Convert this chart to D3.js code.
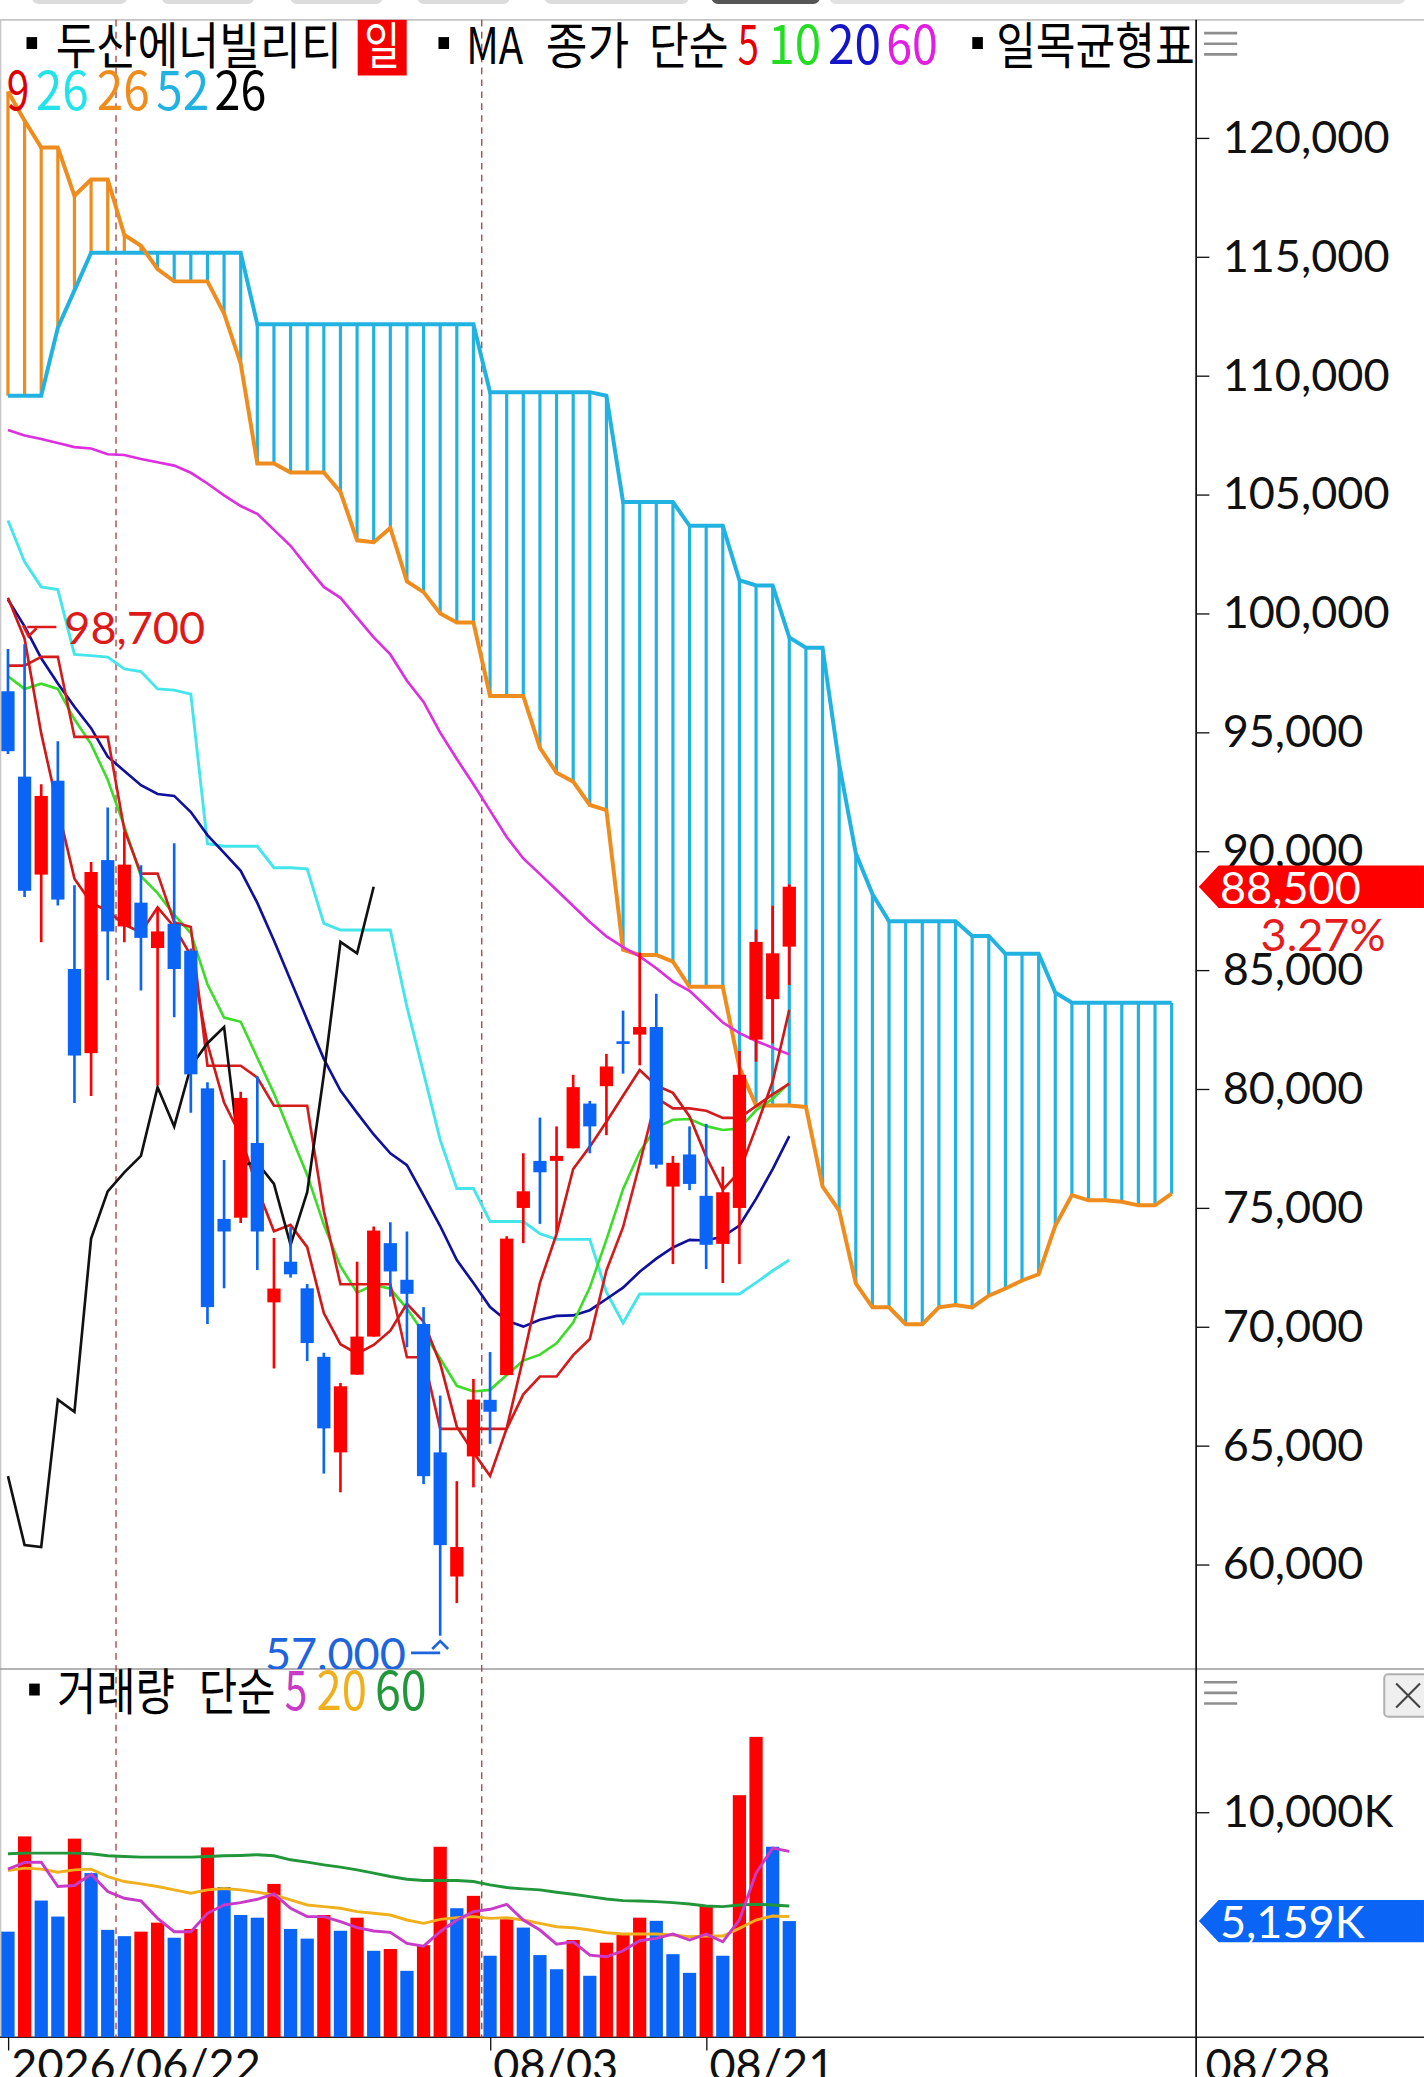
<!DOCTYPE html>
<html lang="ko">
<head>
<meta charset="utf-8">
<script src="https://cdn.jsdelivr.net/npm/d3@7"></script>
<style>
  html, body { margin: 0; padding: 0; background: #fff; }
  svg { display: block; }
  .num { font-family: Lato, "DejaVu Sans", sans-serif; }
  .kr { font-family: "Noto Sans CJK KR", "Noto Sans", sans-serif; }
</style>
</head>
<body>
<div id="chart"></div>
<script>
// trading days shown on the chart
const dates = [
  "2026/06/22", "2026/06/23", "2026/06/24", "2026/06/25", "2026/06/26", "2026/06/29", "2026/06/30",
  "2026/07/01", "2026/07/02", "2026/07/03", "2026/07/06", "2026/07/07", "2026/07/08", "2026/07/09",
  "2026/07/10", "2026/07/13", "2026/07/14", "2026/07/15", "2026/07/16", "2026/07/20", "2026/07/21",
  "2026/07/22", "2026/07/23", "2026/07/24", "2026/07/27", "2026/07/28", "2026/07/29", "2026/07/30",
  "2026/07/31", "2026/08/03", "2026/08/04", "2026/08/05", "2026/08/06", "2026/08/07", "2026/08/10",
  "2026/08/11", "2026/08/12", "2026/08/13", "2026/08/14", "2026/08/18", "2026/08/19", "2026/08/20",
  "2026/08/21", "2026/08/24", "2026/08/25", "2026/08/26", "2026/08/27", "2026/08/28"
];
const dateTicks = ["2026/06/22", "2026/08/03", "2026/08/21"];

const opens = [96720, 93130, 89010, 92960, 85040, 81500, 89620, 86830, 87830, 85920, 86940, 85810, 80020, 74530, 74580, 77720, 71020, 72730, 71610, 68730, 64710, 67980, 69580, 73510, 71970, 70110, 64710, 59490, 64540, 66920, 67960, 74990, 76970, 76970, 77500, 79380, 80110, 82000, 82280, 82600, 75890, 77240, 75500, 73480, 74990, 82070, 83770, 85980];
const highs = [98500, 98700, 92810, 94620, 88560, 89540, 91830, 90820, 89400, 87630, 90330, 85900, 80280, 77010, 79880, 80520, 73730, 74180, 71790, 68900, 67630, 72730, 74210, 74390, 74000, 70820, 67100, 63500, 67800, 68930, 73800, 77290, 78790, 78420, 80590, 79490, 81470, 83290, 85730, 84000, 77180, 78420, 78530, 76730, 81590, 86700, 87700, 88600];
const lows = [94080, 88070, 86160, 87710, 79400, 79700, 84570, 86160, 84140, 80150, 83010, 78990, 70110, 71610, 74360, 72380, 68240, 72060, 68550, 63820, 63030, 67980, 69580, 71260, 69130, 63380, 57000, 58370, 63240, 65070, 67960, 73510, 74320, 73920, 77500, 77290, 78050, 80640, 80990, 76650, 72630, 75740, 72420, 71830, 72630, 81140, 81910, 84370];
const closes = [94200, 88330, 92320, 87960, 81400, 89120, 86620, 89430, 86350, 86620, 85040, 80610, 70820, 74000, 79620, 74000, 71600, 72200, 69310, 65720, 67490, 69580, 74040, 72320, 71380, 63710, 60810, 60730, 66930, 66420, 73700, 75690, 76490, 77180, 80070, 78420, 80940, 81920, 82600, 76810, 76890, 76000, 73440, 75650, 80590, 86180, 85700, 88500];

// moving averages (MA 5 / 10 / 20 / 60)
const ma5 = [100650, 98930, 94950, 91810, 88840, 87830, 87480, 86910, 86580, 87630, 86810, 85610, 81890, 79420, 78020, 75810, 74010, 74280, 73340, 70570, 69260, 68860, 69230, 69830, 70960, 70210, 68450, 65790, 64710, 63720, 65720, 68690, 71840, 73900, 76630, 77570, 78620, 79710, 80790, 80140, 79830, 78840, 77150, 75760, 76510, 78370, 80310, 83320];
const ma10 = [97350, 96820, 97040, 96820, 95540, 94500, 93000, 91040, 88940, 88230, 87320, 86550, 84400, 83000, 82820, 81310, 79810, 78080, 76380, 74290, 72540, 71430, 71750, 71590, 70760, 69730, 68660, 67510, 67270, 67340, 67960, 68570, 68820, 69300, 70170, 71640, 73660, 75780, 77340, 78380, 78700, 78730, 78430, 78270, 78330, 79100, 79580, 80240];
const ma20 = [100580, 99450, 98110, 97050, 96070, 95170, 93970, 93370, 92770, 92400, 92320, 91640, 90670, 89920, 89170, 87820, 86240, 84570, 82900, 81260, 79930, 78990, 78080, 77290, 76790, 75520, 74230, 72800, 71830, 70820, 70250, 70000, 70290, 70450, 70470, 70690, 71160, 71640, 72310, 72860, 73330, 73650, 73620, 73790, 74250, 75370, 76620, 78010];
const ma60 = [107710, 107480, 107330, 107160, 106990, 106930, 106690, 106660, 106490, 106350, 106210, 105910, 105460, 104960, 104510, 104180, 103510, 102840, 101950, 101110, 100650, 99820, 98990, 98270, 97160, 96270, 94980, 93870, 92810, 91700, 90590, 89690, 89030, 88360, 87690, 87020, 86410, 85960, 85570, 85070, 84510, 84120, 83460, 82790, 82340, 82010, 81730, 81450];

// ichimoku: conversion (9), base (26), leading spans (26 / 52, run 23 days ahead), lagging (26)
const conversion = [97800, 97800, 98170, 98170, 94800, 94800, 94800, 90900, 89050, 89050, 87010, 86810, 80970, 80970, 80970, 80470, 79290, 79290, 79290, 74860, 71780, 71780, 71780, 71780, 68710, 68710, 65700, 65700, 65700, 65700, 65700, 67150, 67900, 67900, 68800, 69480, 72360, 74180, 76850, 79620, 79180, 79180, 79080, 78780, 78780, 79270, 79770, 80220];
const baseLine = [103900, 102170, 101110, 101000, 98270, 98220, 98160, 97660, 97550, 96820, 96770, 96600, 90310, 90200, 90200, 90200, 89300, 89300, 89250, 86960, 86680, 86680, 86680, 86680, 83450, 80670, 77850, 75810, 75810, 74420, 74420, 74420, 73910, 73670, 73670, 73670, 71450, 70150, 71370, 71370, 71370, 71370, 71370, 71370, 71370, 71850, 72350, 72800];
const span1 = [121950, 120720, 119590, 119590, 117560, 118240, 118240, 115910, 115460, 114480, 113960, 113960, 113960, 112610, 110500, 106300, 106300, 105920, 105920, 105920, 105100, 103070, 102990, 103590, 101340, 100890, 99990, 99610, 99610, 96520, 96520, 96520, 94340, 93290, 92920, 91940, 91720, 85850, 85630, 85630, 85350, 84290, 84290, 84290, 80890, 79300, 79300, 79300, 79240, 75890, 74880, 71820, 70810, 70810, 70100, 70100, 70810, 70910, 70810, 71300, 71600, 71940, 72200, 74240, 75530, 75310, 75310, 75250, 75100, 75100, 75590];
const span2 = [109150, 109150, 109150, 112010, 113580, 115160, 115160, 115160, 115160, 115160, 115160, 115160, 115160, 115160, 115160, 112160, 112160, 112160, 112160, 112160, 112160, 112160, 112160, 112160, 112160, 112160, 112160, 112160, 112160, 109300, 109300, 109300, 109300, 109300, 109300, 109300, 109150, 104680, 104680, 104680, 104680, 103680, 103680, 103680, 101390, 101170, 101170, 98980, 98550, 98550, 93660, 89910, 88190, 87050, 87050, 87050, 87050, 87050, 86430, 86430, 85680, 85680, 85680, 84050, 83620, 83620, 83620, 83620, 83620, 83620, 83620];
const lagSpan = [63710, 60810, 60730, 66930, 66420, 73700, 75690, 76490, 77180, 80070, 78420, 80940, 81920, 82600, 76810, 76890, 76000, 73440, 75650, 80590, 86180, 85700, 88500];

// volume in thousands of shares, with 5 / 20 / 60 day averages
const volumes = [4690, 8920, 6070, 5360, 8820, 7290, 4770, 4490, 4690, 5090, 4420, 4810, 8430, 6670, 5430, 5310, 6810, 4810, 4380, 5430, 4730, 5310, 3840, 3920, 2950, 4090, 8460, 5730, 6280, 3620, 5240, 4870, 3650, 3020, 4320, 2730, 4200, 4540, 5310, 5170, 3690, 2860, 5830, 3620, 10750, 13340, 8460, 5159];
const volMa5 = [7465, 7762, 7777, 6693, 6737, 7242, 6470, 6173, 6054, 5281, 4687, 4687, 5504, 5876, 5980, 6128, 6366, 5727, 5356, 5356, 5133, 4865, 4717, 4657, 4167, 4048, 4687, 5207, 5578, 5682, 5905, 5207, 4761, 4137, 4241, 3647, 3573, 3840, 4286, 4390, 4583, 4316, 4583, 4241, 5207, 7287, 8401, 8252];
const volMa20 = [7405, 7510, 7465, 7331, 7435, 7465, 7138, 6915, 6811, 6693, 6544, 6396, 6544, 6603, 6544, 6440, 6321, 6099, 5876, 5801, 5727, 5578, 5504, 5430, 5207, 5059, 5237, 5311, 5356, 5281, 5311, 5207, 5059, 4910, 4865, 4761, 4643, 4583, 4583, 4583, 4539, 4464, 4494, 4494, 4836, 5207, 5385, 5356];
const volMa60 = [8148, 8178, 8178, 8178, 8178, 8148, 8059, 8030, 8000, 8000, 8000, 8000, 8030, 8059, 8074, 8104, 8059, 7881, 7777, 7658, 7554, 7435, 7287, 7138, 7019, 6960, 6960, 6960, 6915, 6767, 6648, 6589, 6544, 6440, 6351, 6247, 6143, 6069, 6054, 6024, 5980, 5920, 5831, 5801, 5876, 5905, 5876, 5831];

const priceTicks = d3.range(60000, 120001, 5000);
const volumeTicks = [10000];

// ---------------------------------------------------------------
const W = 1075, H = 1568;
const axisX = 903, topY = 15, splitY = 1260, baseY = 1538;
const RED = "#ff0000", BLUE = "#0a64f5";

const svg = d3.select("#chart").append("svg")
  .attr("width", 1424).attr("height", 2077)
  .attr("viewBox", `0 0 ${W} ${H}`);

const x = d3.scaleLinear().domain([0, 70]).range([6, 884.5]);
const y = d3.scaleLinear().domain([60000, 120000]).range([1181, 104]);
const yv = d3.scaleLinear().domain([0, 10000]).range([baseY, 1368]);

const defs = svg.append("defs");
defs.append("clipPath").attr("id", "clipMain")
  .append("rect").attr("x", 0).attr("y", topY).attr("width", axisX).attr("height", splitY - topY);
defs.append("clipPath").attr("id", "clipVol")
  .append("rect").attr("x", 0).attr("y", splitY).attr("width", axisX).attr("height", baseY - splitY);

// top cut-off tab buttons
[[24, 96, "#dcdcdc"], [122, 192, "#dcdcdc"], [219, 289, "#dcdcdc"], [315, 385, "#dcdcdc"],
 [411, 520, "#dcdcdc"], [537, 619, "#555"], [626, 1061, "#e2e2e2"]].forEach(t => {
  svg.append("rect").attr("x", t[0]).attr("y", -20).attr("width", t[1] - t[0]).attr("height", 23)
    .attr("rx", 5).attr("fill", t[2]);
});

// frame lines
svg.append("line").attr("x1", 0).attr("x2", W).attr("y1", topY).attr("y2", topY)
  .attr("stroke", "#c4c4c4").attr("stroke-width", 1.2);
svg.append("line").attr("x1", 0.5).attr("x2", 0.5).attr("y1", topY).attr("y2", baseY)
  .attr("stroke", "#c8c8c8").attr("stroke-width", 1);
svg.append("line").attr("x1", 0).attr("x2", W).attr("y1", splitY).attr("y2", splitY)
  .attr("stroke", "#9a9a9a").attr("stroke-width", 1.2);
svg.append("line").attr("x1", 0).attr("x2", W).attr("y1", baseY).attr("y2", baseY)
  .attr("stroke", "#222").attr("stroke-width", 1.2);
svg.append("line").attr("x1", axisX).attr("x2", axisX).attr("y1", topY).attr("y2", H)
  .attr("stroke", "#111").attr("stroke-width", 1.3);

// month separators (dashed) between last and first trading day of a month
const monthBreaks = d3.range(1, dates.length).filter(i => dates[i].slice(5, 7) !== dates[i - 1].slice(5, 7));
svg.append("g").selectAll("line").data(monthBreaks).join("line")
  .attr("x1", i => x(i - 0.5)).attr("x2", i => x(i - 0.5))
  .attr("y1", topY).attr("y2", baseY)
  .attr("stroke", "#a84040").attr("stroke-width", 1).attr("stroke-dasharray", "5,4");

// ---------------- price panel ----------------
const main = svg.append("g").attr("clip-path", "url(#clipMain)");
const line = d3.line().x((d, i) => x(i)).y(d => y(d));

// cloud hatching
main.append("g").selectAll("line").data(span1).join("line")
  .attr("x1", (d, i) => x(i)).attr("x2", (d, i) => x(i))
  .attr("y1", d => y(d)).attr("y2", (d, i) => y(span2[i]))
  .attr("stroke", (d, i) => d >= span2[i] ? "#ef8c1e" : "#22b2e2")
  .attr("stroke-width", 2.4);

main.append("path").datum(span2).attr("d", line)
  .attr("fill", "none").attr("stroke", "#22b2e2").attr("stroke-width", 3);
main.append("path").datum(span1).attr("d", line)
  .attr("fill", "none").attr("stroke", "#ef8c1e").attr("stroke-width", 3);

const series = [
  [baseLine, "#44e6ea", 2.2],
  [ma60, "#dd2ee0", 2],
  [ma20, "#10109e", 2],
  [ma10, "#3ddc28", 2],
  [conversion, "#d41c1c", 2],
  [ma5, "#d01818", 2],
  [lagSpan, "#111", 2]
];
series.forEach(s => {
  main.append("path").datum(s[0]).attr("d", line)
    .attr("fill", "none").attr("stroke", s[1]).attr("stroke-width", s[2]);
});

// candles
const candles = main.append("g").selectAll("g").data(closes).join("g")
  .attr("fill", (c, i) => c >= opens[i] ? RED : BLUE)
  .attr("stroke", (c, i) => c >= opens[i] ? RED : BLUE);
candles.append("line")
  .attr("x1", (c, i) => x(i)).attr("x2", (c, i) => x(i))
  .attr("y1", (c, i) => y(highs[i])).attr("y2", (c, i) => y(lows[i]))
  .attr("stroke-width", 2);
candles.append("rect")
  .attr("x", (c, i) => x(i) - 5).attr("width", 10)
  .attr("y", (c, i) => y(Math.max(c, opens[i])))
  .attr("height", (c, i) => Math.max(2, Math.abs(y(c) - y(opens[i]))))
  .attr("stroke", "none");

// highest / lowest markers
const fmt = d3.format(",");
const hiIdx = d3.maxIndex(highs), loIdx = d3.minIndex(lows);
const hiY = y(highs[hiIdx]) - 13, loY = y(lows[loIdx]) + 13;
main.append("path")
  .attr("d", `M${x(hiIdx) + 24},${hiY} H${x(hiIdx) + 2} M${x(hiIdx) - 1},${hiY - 1} L${x(hiIdx) + 3},${hiY + 7} L${x(hiIdx) + 9},${hiY + 1}`)
  .attr("fill", "none").attr("stroke", "#dd1a1a").attr("stroke-width", 2);
main.append("text").attr("class", "num")
  .attr("x", x(hiIdx) + 30).attr("y", hiY).attr("dominant-baseline", "central")
  .attr("font-size", 34).attr("fill", "#dd1a1a").text(fmt(highs[hiIdx]));
main.append("path")
  .attr("d", `M${x(loIdx) - 22},${loY} H${x(loIdx)} M${x(loIdx) - 6},${loY - 3} L${x(loIdx)},${loY - 9} L${x(loIdx) + 6},${loY - 3}`)
  .attr("fill", "none").attr("stroke", "#1e64dc").attr("stroke-width", 2);
main.append("text").attr("class", "num")
  .attr("x", x(loIdx) - 26).attr("y", loY).attr("dominant-baseline", "central").attr("text-anchor", "end")
  .attr("font-size", 34).attr("fill", "#1e64dc").text(fmt(lows[loIdx]));

// price axis
const yAxis = svg.append("g").attr("transform", `translate(${axisX},0)`)
  .call(d3.axisRight(y).tickValues(priceTicks).tickSize(10).tickPadding(10).tickFormat(fmt));
yAxis.select(".domain").remove();
yAxis.selectAll(".tick line").attr("stroke", "#111");
yAxis.selectAll(".tick text").attr("class", "num").attr("font-size", 34).attr("fill", "#111");

// ---------------- volume panel ----------------
const vol = svg.append("g").attr("clip-path", "url(#clipVol)");
vol.append("g").selectAll("rect").data(volumes).join("rect")
  .attr("x", (v, i) => x(i) - 5).attr("width", 10)
  .attr("y", v => yv(v)).attr("height", v => baseY - yv(v))
  .attr("fill", (v, i) => i > 0 && v > volumes[i - 1] ? RED : BLUE);

const vline = d3.line().x((d, i) => x(i)).y(d => yv(d));
[[volMa60, "#22963a"], [volMa20, "#f0b01e"], [volMa5, "#c83ac8"]].forEach(s => {
  vol.append("path").datum(s[0]).attr("d", vline)
    .attr("fill", "none").attr("stroke", s[1]).attr("stroke-width", 2.2);
});

const vAxis = svg.append("g").attr("transform", `translate(${axisX},0)`)
  .call(d3.axisRight(yv).tickValues(volumeTicks).tickSize(10).tickPadding(10).tickFormat(d => fmt(d) + "K"));
vAxis.select(".domain").remove();
vAxis.selectAll(".tick line").attr("stroke", "#111");
vAxis.selectAll(".tick text").attr("class", "num").attr("font-size", 34).attr("fill", "#111");

// date axis (labels run off the bottom edge, as in the app screenshot)
const tickIdx = dateTicks.map(d => dates.indexOf(d));
const xAxis = svg.append("g").attr("transform", `translate(0,${baseY})`)
  .call(d3.axisBottom(x).tickValues(tickIdx).tickSize(10)
    .tickFormat((d, k) => k === 0 ? dates[d] : dates[d].slice(5)));
xAxis.select(".domain").remove();
xAxis.selectAll(".tick line").attr("stroke", "#111");
xAxis.selectAll(".tick text").attr("class", "num").attr("font-size", 34).attr("fill", "#111")
  .attr("text-anchor", "start").attr("dx", 2).attr("y", 9).attr("dy", "0.71em");
svg.append("text").attr("class", "num").attr("x", 910).attr("y", baseY + 9).attr("dy", "0.71em")
  .attr("font-size", 34).attr("fill", "#111").text(dates[dates.length - 1].slice(5));

// ---------------- current value tags ----------------
function tag(cy, color, label) {
  svg.append("path")
    .attr("d", `M${axisX + 2},${cy} L${axisX + 17},${cy - 16} H${W} V${cy + 16} H${axisX + 17} Z`)
    .attr("fill", color);
  svg.append("text").attr("class", "num").attr("x", axisX + 18).attr("y", cy)
    .attr("dominant-baseline", "central").attr("font-size", 34).attr("fill", "#fff").text(label);
}
const last = closes.length - 1;
tag(y(closes[last]), RED, fmt(closes[last]));
svg.append("text").attr("class", "num").attr("x", 1046).attr("y", y(closes[last]) + 36)
  .attr("dominant-baseline", "central").attr("text-anchor", "end")
  .attr("font-size", 34).attr("fill", "#e41c1c")
  .text(d3.format(".2f")((closes[last] / closes[last - 1] - 1) * 100) + "%");
tag(yv(volumes[last]), BLUE, fmt(volumes[last]) + "K");

// ---------------- legends ----------------
// condensed app font: squeeze each word into the width it takes on screen
function kr(xp, yp, str, color, width, size) {
  return svg.append("text").attr("class", "kr")
    .attr("x", xp).attr("y", yp)
    .attr("font-size", size || 38).attr("fill", color || "#000")
    .attr("textLength", width).attr("lengthAdjust", "spacingAndGlyphs")
    .text(str);
}
function bullet(xp, yp) {
  svg.append("rect").attr("x", xp).attr("y", yp).attr("width", 8).attr("height", 9).attr("fill", "#000");
}

bullet(20, 28);
kr(42, 48, "두산에너빌리티", "#000", 216);
svg.append("rect").attr("x", 270).attr("y", topY).attr("width", 37).attr("height", 42).attr("fill", "#f50000");
kr(275, 48, "일", "#fff", 27);
bullet(331, 28);
kr(352, 48, "MA", "#000", 43);
kr(412, 48, "종가", "#000", 63);
kr(490, 48, "단순", "#000", 60);
[["5", "#e60000", 557, 16], ["10", "#22dd22", 580, 40], ["20", "#1414c8", 625, 40], ["60", "#e11ee1", 669, 39]]
  .forEach(t => kr(t[2], 48, t[0], t[1], t[3], 40));
bullet(734, 28);
kr(752, 48, "일목균형표", "#000", 150);

[["9", "#dd0000", 5, 17], ["26", "#22e4e8", 27, 40], ["26", "#ef8c1e", 73, 40], ["52", "#22b2e2", 118, 40], ["26", "#000", 162, 39]]
  .forEach(t => kr(t[2], 83, t[0], t[1], t[3], 40));

bullet(22, 1271);
kr(43, 1291, "거래량", "#000", 89);
kr(150, 1291, "단순", "#000", 58);
[["5", "#c83ac8", 215, 17], ["20", "#f0b01e", 239, 38], ["60", "#22963a", 283, 39]]
  .forEach(t => kr(t[2], 1291, t[0], t[1], t[3], 40));

// menu icons and close button
[[topY + 10], [splitY + 10]].forEach(p => {
  [0, 8, 16].forEach(o => {
    svg.append("line").attr("x1", 909).attr("x2", 934).attr("y1", p[0] + o).attr("y2", p[0] + o)
      .attr("stroke", "#8e8e8e").attr("stroke-width", 2);
  });
});
svg.append("rect").attr("x", 1045).attr("y", 1264).attr("width", 34).attr("height", 32).attr("rx", 3)
  .attr("fill", "#efefef").attr("stroke", "#b0b0b0").attr("stroke-width", 1.5);
svg.append("path").attr("d", "M1054,1271 L1072,1289 M1072,1271 L1054,1289")
  .attr("stroke", "#444").attr("stroke-width", 1.6);
</script>
</body>
</html>
